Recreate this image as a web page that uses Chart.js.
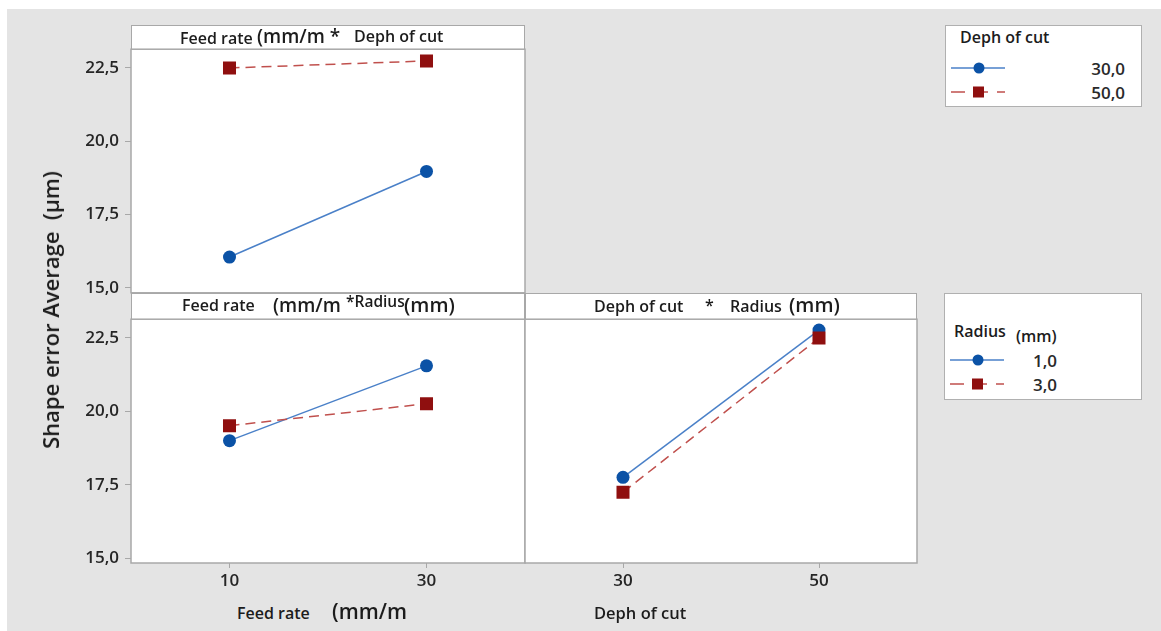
<!DOCTYPE html>
<html>
<head>
<meta charset="utf-8">
<script src="https://cdn.jsdelivr.net/npm/chart.js@4.4.1/dist/chart.umd.min.js"></script>
<style>
body{margin:0;width:1161px;height:631px;background:#fff;position:relative;overflow:hidden;font-family:"Open Sans",sans-serif;color:#1c1c1c}
#bg{position:absolute;left:7px;top:9px;right:0;bottom:0;background:#e4e4e4}
.wrap{position:absolute}
.band{position:absolute;background:#fff;border:1.5px solid #a8a8a8;box-sizing:border-box}
.t{position:absolute;white-space:nowrap;font-weight:600;line-height:1}
.s16{font-size:16px}
.s19{font-size:19px}
.s20{font-size:20px}
.legend{position:absolute;background:#fff;border:1.5px solid #b0b0b0;box-sizing:border-box}
.legend svg{position:absolute;left:5px}
.lab{position:absolute;font-size:17px;font-weight:600;line-height:1;color:#2a2a2a;text-align:right}
</style>
</head>
<body>
<div id="bg"></div>

<div class="band" style="left:131px;top:25px;width:394px;height:25px"></div>
<div class="band" style="left:131px;top:293px;width:394px;height:27px"></div>
<div class="band" style="left:525px;top:293px;width:392px;height:27px"></div>

<div class="wrap" style="left:60px;top:40px;width:475px;height:262px"><canvas id="c1"></canvas></div>
<div class="wrap" style="left:60px;top:310px;width:475px;height:290px"><canvas id="c2"></canvas></div>
<div class="wrap" style="left:515px;top:310px;width:412px;height:290px"><canvas id="c3"></canvas></div>

<!-- panel titles -->
<span class="t s16" style="left:180px;top:30px">Feed rate</span>
<span class="t s19" style="left:257px;top:27px">(mm/m *</span>
<span class="t s16" style="left:354px;top:28px">Deph of cut</span>

<span class="t s16" style="left:182px;top:297px">Feed rate</span>
<span class="t s19" style="left:273px;top:296px">(mm/m</span>
<span class="t" style="left:346px;top:294px;font-size:15.5px">*Radius</span>
<span class="t s20" style="left:404px;top:295px">(mm)</span>

<span class="t s16" style="left:594px;top:298px">Deph of cut</span>
<span class="t s16" style="left:705px;top:297px">*</span>
<span class="t s16" style="left:730px;top:298px">Radius</span>
<span class="t s20" style="left:789px;top:295px">(mm)</span>

<!-- axis titles -->
<span class="t" style="left:237px;top:605px;font-size:16px">Feed rate</span>
<span class="t" style="left:332px;top:601px;font-size:21px">(mm/m</span>
<span class="t" style="left:594px;top:605px;font-size:16.5px">Deph of cut</span>
<span class="t" style="left:50px;top:310px;font-size:22px;transform:translate(-50%,-50%) rotate(-90deg)">Shape error Average&nbsp;&nbsp;(µm)</span>

<!-- legends -->
<div class="legend" style="left:945px;top:25px;width:197px;height:82px">
  <span class="t" style="left:14px;top:3px;font-size:16px">Deph of cut</span>
  <svg width="56" height="14" style="top:35px"><line x1="0" y1="7" x2="54" y2="7" stroke="#4a80c8" stroke-width="1.6"/><circle cx="28" cy="7" r="5.5" fill="#0b52a6"/></svg>
  <svg width="56" height="14" style="top:59px"><line x1="0" y1="7" x2="54" y2="7" stroke="#c0504d" stroke-width="1.6" stroke-dasharray="14,9"/><rect x="22" y="1.5" width="11" height="11" fill="#8f0f0f"/></svg>
  <span class="lab" style="right:16px;top:34px">30,0</span>
  <span class="lab" style="right:16px;top:58px">50,0</span>
</div>
<div class="legend" style="left:944px;top:293px;width:198px;height:107px">
  <span class="t" style="left:9px;top:29px;font-size:16px">Radius</span>
  <span class="t" style="left:71px;top:34px;font-size:16px">(mm)</span>
  <svg width="56" height="14" style="top:59px"><line x1="0" y1="7" x2="54" y2="7" stroke="#4a80c8" stroke-width="1.6"/><circle cx="28" cy="7" r="5.5" fill="#0b52a6"/></svg>
  <svg width="56" height="14" style="top:83px"><line x1="0" y1="7" x2="54" y2="7" stroke="#c0504d" stroke-width="1.6" stroke-dasharray="14,9"/><rect x="22" y="1.5" width="11" height="11" fill="#8f0f0f"/></svg>
  <span class="lab" style="right:84px;top:58px">1,0</span>
  <span class="lab" style="right:84px;top:82px">3,0</span>
</div>

<script>
// factor levels
var feedRates = [10, 30];
var depths = [30, 50];
var yTicks = [15, 17.5, 20, 22.5];

// Feed rate * Deph of cut
var depth30 = [16.05, 18.97];
var depth50 = [22.5, 22.74];
// Feed rate * Radius
var radius1Feed = [19.0, 21.55];
var radius3Feed = [19.51, 20.26];
// Deph of cut * Radius
var radius1Depth = [17.75, 22.77];
var radius3Depth = [17.24, 22.5];

var yMin = 14.83, yMax = 23.14;

Chart.defaults.font.family = '"Open Sans", sans-serif';
Chart.defaults.font.size = 17;
Chart.defaults.font.weight = '600';
Chart.defaults.color = '#262626';

var framePlugin = {
  id: 'frame',
  beforeDraw: function(chart) {
    var a = chart.chartArea, ctx = chart.ctx;
    ctx.save();
    ctx.fillStyle = '#fff';
    ctx.fillRect(a.left, a.top, a.right - a.left, a.bottom - a.top);
    ctx.restore();
  },
  afterDraw: function(chart) {
    var a = chart.chartArea, ctx = chart.ctx;
    ctx.save();
    ctx.strokeStyle = '#a8a8a8';
    ctx.lineWidth = 1.5;
    ctx.strokeRect(a.left, a.top, a.right - a.left, a.bottom - a.top);
    ctx.restore();
  }
};

function pts(xs, ys) {
  return xs.map(function(x, i) { return {x: x, y: ys[i]}; });
}

function blue(xs, ys) {
  return {data: pts(xs, ys), borderColor: '#4a80c8', borderWidth: 1.5,
    pointStyle: 'circle', pointRadius: 6.5, pointBackgroundColor: '#0b52a6', pointBorderWidth: 0};
}
function red(xs, ys) {
  return {data: pts(xs, ys), borderColor: '#c0504d', borderWidth: 1.5, borderDash: [10, 6],
    pointStyle: 'rect', pointRadius: 9.2, pointBackgroundColor: '#8f0f0f', pointBorderWidth: 0};
}

function panel(id, xs, s1, s2, xMin, xMax, showX, showY, pad) {
  new Chart(document.getElementById(id), {
    type: 'line',
    data: {datasets: [red(xs, s2), blue(xs, s1)]},
    options: {
      responsive: true,
      maintainAspectRatio: false,
      animation: false,
      layout: {padding: pad},
      plugins: {legend: {display: false}, tooltip: {enabled: false}},
      scales: {
        x: {
          type: 'linear', min: xMin, max: xMax, display: showX,
          afterBuildTicks: function(s) { s.ticks = xs.map(function(v) { return {value: v}; }); },
          afterFit: function(s) {
            if (showX) s.height = 37;
            s.paddingLeft = 0; s.paddingRight = 0;
          },
          grid: {drawOnChartArea: false, drawTicks: true, tickLength: 5, color: '#a8a8a8'},
          border: {display: false},
          ticks: {padding: 3, maxRotation: 0, callback: function(v) { return String(v); }}
        },
        y: {
          min: yMin, max: yMax, display: showY,
          afterBuildTicks: function(s) { s.ticks = yTicks.map(function(v) { return {value: v}; }); },
          afterFit: function(s) {
            if (showY) s.width = 71;
            s.paddingTop = 0; s.paddingBottom = 0;
          },
          grid: {drawOnChartArea: false, drawTicks: true, tickLength: 6, color: '#a8a8a8'},
          border: {display: false},
          ticks: {padding: 6, callback: function(v) { return v.toFixed(1).replace('.', ','); }}
        }
      }
    },
    plugins: [framePlugin]
  });
}

panel('c1', feedRates, depth30, depth50, 0, 40, false, true, {left: 0, top: 8, right: 10, bottom: 0});
panel('c2', feedRates, radius1Feed, radius3Feed, 0, 40, true, true, {left: 0, top: 8, right: 10, bottom: 0});
panel('c3', depths, radius1Depth, radius3Depth, 20, 60, true, false, {left: 10, top: 8, right: 10, bottom: 0});
</script>
</body>
</html>
